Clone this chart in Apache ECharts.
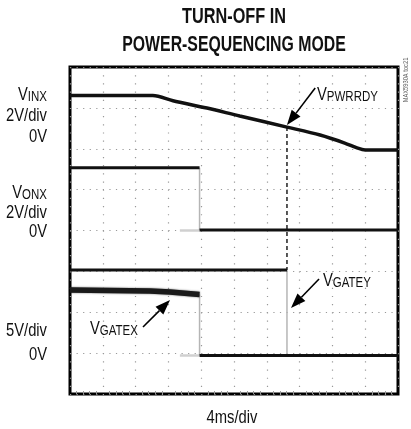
<!DOCTYPE html>
<html>
<head>
<meta charset="utf-8">
<script src="https://cdn.jsdelivr.net/npm/echarts@6/dist/echarts.min.js"></script>
<style>
  html, body { margin: 0; padding: 0; background: #fff; }
  #main { width: 411px; height: 429px; }
</style>
</head>
<body>
<div id="main"></div>
<script>
// scope traces, time in ms (4ms/div), volts per trace
const inxTime = [0, 10.1, 12.56, 16.7, 20.7, 26.46, 30.5, 33.5, 35.0, 36.0, 40];
const inxVolt = [2.6, 2.6, 2.35, 1.99, 1.6, 1.06, 0.67, 0.28, 0.04, -0.06, -0.06];

const onxTime = [0, 15.8, 15.8, 40];
const onxVolt = [3.07, 3.07, 0.02, 0.02];
const onxGhostTime = [13.4, 15.8];
const onxGhostVolt = [0, 0];

const gateyTime = [0, 26.46, 26.46, 40];
const gateyVolt = [10.17, 10.17, -0.29, -0.29];

const gatexTime = [0, 9.76, 12.2, 15.8, 15.8, 40];
const gatexVolt = [7.72, 7.6, 7.47, 7.17, -0.3, -0.3];
const gatexGhostTime = [13.4, 15.8];
const gatexGhostVolt = [-0.3, -0.3];

// annotation arrows: [tail, tip] in data coords
const pwrrdyArrow = [[29.9, 2.97], [26.46, 1.16]];
const gateyArrow = [[30.37, 9.06], [26.95, 5.52]];
const gatexArrow = [[8.9, 3.19], [12.2, 6.5]];

// no narrow face installed, so Liberation Sans squeezed horizontally
const FONT = "'Liberation Sans', Arial, sans-serif";
const SQUEEZE = 0.82;

const chart = echarts.init(document.getElementById('main'));

const zip = (ts, vs) => ts.map((t, i) => [t, vs[i]]);

function lineSeries(data, yIdx, style, z, smooth) {
  return {
    type: 'line', data: data, xAxisIndex: 0, yAxisIndex: yIdx,
    symbol: 'none', smooth: smooth || false,
    lineStyle: style, z: z, silent: true
  };
}

const traceStyle = { color: '#111', width: 3 };
const fuzzyStyle = { color: '#1a1a1a', width: 5.5, shadowBlur: 2, shadowColor: 'rgba(0,0,0,0.6)' };
const edgeStyle = { color: '#b5b5b5', width: 1.5 };
const ghostStyle = { color: '#d0d0d0', width: 2.5 };

// split a step trace: level parts thick black, fast edges thin grey
function stepSeries(ts, vs, yIdx, styles) {
  const out = [];
  let k = 0;
  const next = () => styles[Math.min(k++, styles.length - 1)];
  let seg = [[ts[0], vs[0]]];
  for (let i = 1; i < ts.length; i++) {
    if (ts[i] === ts[i - 1]) {
      out.push(lineSeries(seg, yIdx, next(), 3));
      out.push(lineSeries([[ts[i], vs[i - 1]], [ts[i], vs[i]]], yIdx, edgeStyle, 2));
      seg = [[ts[i], vs[i]]];
    } else {
      seg.push([ts[i], vs[i]]);
    }
  }
  out.push(lineSeries(seg, yIdx, next(), 3));
  return out;
}

const series = [].concat(
  [lineSeries(zip(inxTime, inxVolt), 1, { color: '#111', width: 3.5 }, 3, 0.3)],
  [lineSeries(zip(onxGhostTime, onxGhostVolt), 2, ghostStyle, 1)],
  stepSeries(onxTime, onxVolt, 2, [traceStyle]),
  [lineSeries(zip(gatexGhostTime, gatexGhostVolt), 3, ghostStyle, 1)],
  stepSeries(gateyTime, gateyVolt, 3, [traceStyle]),
  stepSeries(gatexTime, gatexVolt, 3, [fuzzyStyle, traceStyle])
);

const hiddenY = (min, max) => ({
  type: 'value', min: min, max: max, show: false, splitLine: { show: false }
});

chart.setOption({
  animation: false,
  backgroundColor: '#fff',
  grid: {
    left: 70, top: 67, width: 328, height: 327,
    show: true, borderColor: '#000', borderWidth: 3
  },
  xAxis: {
    type: 'value', min: 0, max: 40, interval: 4,
    axisLine: { show: false },
    axisTick: { show: false, inside: true },
    minorTick: { show: true, splitNumber: 5, length: 3, lineStyle: { color: '#999' } },
    axisLabel: { show: false },
    splitLine: { show: true, lineStyle: { color: '#999', width: 1.2, type: [1.2, 6.975] } }
  },
  yAxis: [
    {
      type: 'value', min: 0, max: 8, interval: 1,
      axisLine: { show: false }, axisTick: { show: false }, axisLabel: { show: false },
      splitLine: { show: true, lineStyle: { color: '#999', width: 1.2, type: [1.2, 5.36] } }
    },
    hiddenY(-12, 4),   // VINX 2V/div
    hiddenY(-8, 8),    // VONX 2V/div
    hiddenY(-5, 35)    // VGATE 5V/div
  ],
  series: series
});

const px = (yIdx, p) => chart.convertToPixel({ xAxisIndex: 0, yAxisIndex: yIdx }, p);

function arrow(yIdx, pts) {
  const a = px(yIdx, pts[0]);
  const b = px(yIdx, pts[1]);
  const dx = b[0] - a[0], dy = b[1] - a[1];
  const len = Math.sqrt(dx * dx + dy * dy);
  const ux = dx / len, uy = dy / len;
  const headL = 15, headW = 5.5;
  const bx = b[0] - ux * headL, by = b[1] - uy * headL;
  return [
    { type: 'line', shape: { x1: a[0], y1: a[1], x2: bx, y2: by }, style: { stroke: '#000', lineWidth: 1.6 }, z: 10 },
    { type: 'polygon', shape: { points: [[b[0], b[1]], [bx - uy * headW, by + ux * headW], [bx + uy * headW, by - ux * headW]] },
      style: { fill: '#000' }, z: 10 }
  ];
}

function sublabel(main, sub, x, y, align) {
  return {
    type: 'text', z: 10, x: x, y: y, scaleX: SQUEEZE,
    style: {
      text: '{v|' + main + '}{s|' + sub + '}', x: 0, y: 0,
      align: align || 'left', verticalAlign: 'middle',
      rich: {
        v: { fontFamily: FONT, fontSize: 18, lineHeight: 18, verticalAlign: 'bottom', fill: '#111' },
        s: { fontFamily: FONT, fontSize: 14, lineHeight: 14, verticalAlign: 'bottom', fill: '#111' }
      }
    }
  };
}

function label(text, x, y, align, size, weight, squeeze) {
  return {
    type: 'text', z: 10, x: x, y: y, scaleX: squeeze || SQUEEZE,
    style: { text: text, x: 0, y: 0, align: align || 'right', verticalAlign: 'middle',
      fontFamily: FONT, fontSize: size || 18, fontWeight: weight || 'normal', fill: '#111' }
  };
}

const cursorTop = px(1, [gateyTime[1], inxVolt[5]]);
const cursorBot = px(3, [gateyTime[1], gateyVolt[0]]);

const graphic = [
  label('TURN-OFF IN', 234, 17, 'center', 22, 'bold', 0.74),
  label('POWER-SEQUENCING MODE', 234, 45, 'center', 22, 'bold', 0.72),
  sublabel('V', 'INX', 47, 95, 'right'),
  label('2V/div', 47, 116),
  label('0V', 47, 137),
  sublabel('V', 'ONX', 47, 193, 'right'),
  label('2V/div', 47, 213),
  label('0V', 47, 232),
  label('5V/div', 47, 331),
  label('0V', 47, 355),
  label('4ms/div', 232, 418, 'center'),
  sublabel('V', 'PWRRDY', 317, 95),
  sublabel('V', 'GATEY', 323, 281),
  sublabel('V', 'GATEX', 90, 329),
  { type: 'line', z: 9, shape: { x1: cursorTop[0], y1: cursorTop[1], x2: cursorBot[0], y2: cursorBot[1] },
    style: { stroke: '#111', lineWidth: 1.4, lineDash: [4, 3] } },
  { type: 'text', z: 10, x: 406, y: 80, rotation: Math.PI / 2, scaleX: SQUEEZE,
    style: { text: 'MAX5930A toc21', x: 0, y: 0, align: 'center', verticalAlign: 'middle',
      fontFamily: FONT, fontSize: 7, fill: '#555' } }
].concat(arrow(1, pwrrdyArrow), arrow(3, gateyArrow), arrow(3, gatexArrow));

chart.setOption({ graphic: graphic });
</script>
</body>
</html>
